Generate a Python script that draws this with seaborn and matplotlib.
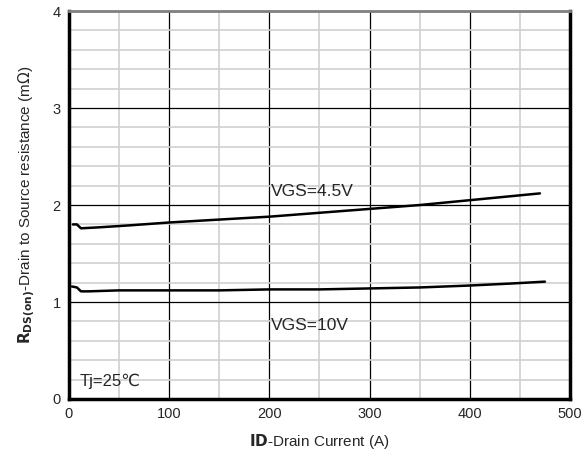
import numpy as np
import pandas as pd
import matplotlib
matplotlib.use("Agg")
import matplotlib.pyplot as plt
import seaborn as sns

id_45 = [4, 8, 12, 30, 60, 100, 150, 200, 250, 300, 350, 400, 440, 470]
rds_45 = [1.80, 1.80, 1.76, 1.77, 1.79, 1.82, 1.85, 1.88, 1.92, 1.96, 2.00, 2.05, 2.09, 2.12]
id_10 = [3, 8, 12, 20, 50, 100, 150, 200, 250, 300, 350, 400, 440, 475]
rds_10 = [1.16, 1.15, 1.11, 1.11, 1.12, 1.12, 1.12, 1.13, 1.13, 1.14, 1.15, 1.17, 1.19, 1.21]

df = pd.concat([
    pd.DataFrame({"ID": id_45, "RDS": rds_45, "VGS": "4.5V"}),
    pd.DataFrame({"ID": id_10, "RDS": rds_10, "VGS": "10V"}),
])

sns.set_style("white")
plt.rcParams['font.family'] = ['Liberation Sans', 'DejaVu Sans']

fig = plt.figure(figsize=(5.84, 4.61), dpi=100)
ax = fig.add_axes([0.118, 0.1345, 0.858, 0.8415])

sns.lineplot(data=df, x="ID", y="RDS", units="VGS", estimator=None,
             color="black", linewidth=1.8, sort=False, ax=ax, legend=False)

ax.set_xlim(0, 500)
ax.set_ylim(0, 4)
ax.set_xticks(np.arange(0, 501, 100))
ax.set_yticks(np.arange(0, 5, 1))
ax.set_xticks(np.arange(50, 500, 100), minor=True)
ax.set_yticks([v for v in np.arange(0.2, 4.0, 0.2) if abs(v - round(v)) > 1e-6], minor=True)
ax.grid(which="minor", color="#d0d0d0", linewidth=1.2)
ax.grid(which="major", color="black", linewidth=0.9)
ax.set_axisbelow(True)
ax.tick_params(which="both", length=0, labelsize=10.5, pad=6)

for side in ["left", "bottom", "right"]:
    ax.spines[side].set_color("black")
    ax.spines[side].set_linewidth(2.5)
ax.spines["top"].set_color("#808080")
ax.spines["top"].set_linewidth(2)

ax.text(243, 2.14, "VGS=4.5V", fontsize=12.5, ha="center", va="center")
ax.text(240, 0.76, "VGS=10V", fontsize=12.5, ha="center", va="center")
ax.text(11, 0.185, "Tj=25\u2103", fontsize=12, ha="left", va="center")

ax.set_xlabel(r"$\mathbf{ID}$-Drain Current (A)", fontsize=11, labelpad=8)
ax.set_ylabel(r"$\mathbf{R}_{\mathbf{DS(on)}}$-Drain to Source resistance (m$\Omega$)",
              fontsize=11, labelpad=10)

fig.savefig("out.png", dpi=100)
